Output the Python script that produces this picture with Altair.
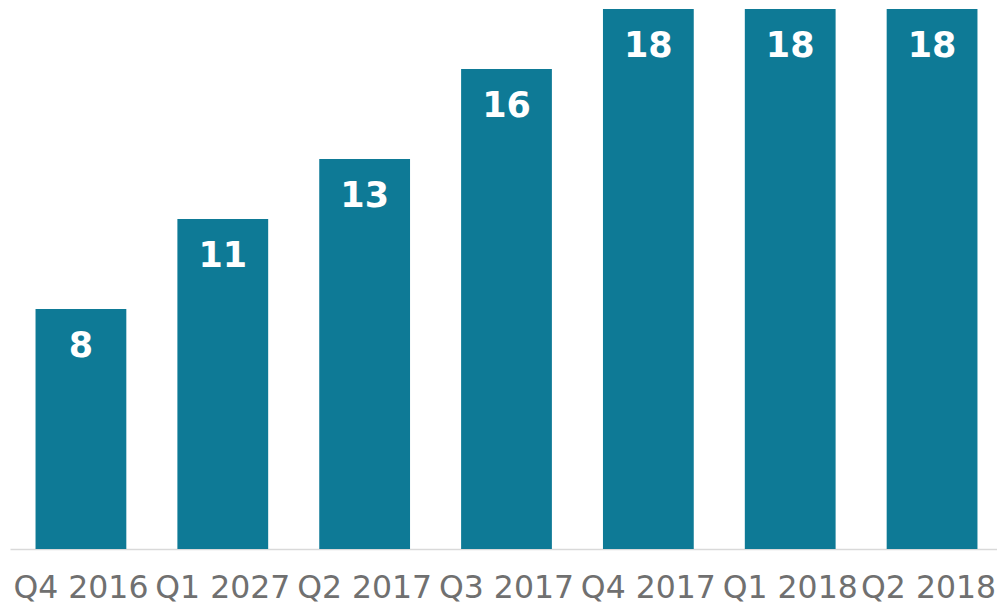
import altair as alt
import pandas as pd

quarters = ["Q4 2016", "Q1 2027", "Q2 2017", "Q3 2017", "Q4 2017", "Q1 2018", "Q2 2018"]
values = [8, 11, 13, 16, 18, 18, 18]

df = pd.DataFrame({"q": quarters, "v": values})

x = alt.X("q:N", sort=quarters, title=None,
          scale=alt.Scale(paddingInner=0.36, paddingOuter=0.18),
          axis=alt.Axis(labelAngle=0, labelFont="DejaVu Sans", labelFontSize=31.5,
                        labelColor="#707070", ticks=False, domainColor="#d9d9d9",
                        domainWidth=1.5, labelPadding=23, grid=False,
                        labelOffset=alt.ExprRef("datum.label == 'Q2 2018' ? -3.5 : 0")))
y = alt.Y("v:Q", scale=alt.Scale(domain=[0, 18], nice=False, zero=True), axis=None)

bars = alt.Chart(df).mark_bar(color="#0e7a96").encode(x=x, y=y)
text = alt.Chart(df).mark_text(font="DejaVu Sans", fontSize=35, fontWeight="bold",
                               color="white", baseline="middle", dy=37).encode(
    x=alt.X("q:N", sort=quarters), y=y, text="v:Q")

chart = (bars + text).properties(
    width=993, height=540,
    autosize=alt.AutoSizeParams(type="none"),
    padding={"left": 2, "top": 1, "right": -6, "bottom": 56},
).configure_view(stroke=None)

chart.save("out.html", embed_options={"renderer": "svg", "actions": False})
